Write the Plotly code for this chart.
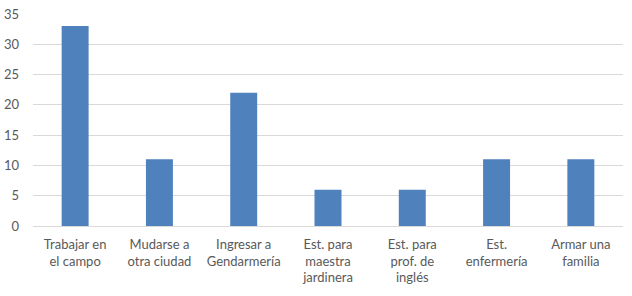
import plotly.graph_objects as go

categories = ["Trabajar en<br>el campo", "Mudarse a<br>otra ciudad", "Ingresar a<br>Gendarmería",
              "Est. para<br>maestra<br>jardinera", "Est. para<br>prof. de<br>inglés",
              "Est.<br>enfermería", "Armar una<br>familia"]
values = [33, 11, 22, 6, 6, 11, 11]
y_ticks = [0, 5, 10, 15, 20, 25, 30, 35]

fig = go.Figure(go.Bar(x=categories, y=values, marker=dict(color="#4F81BD", line=dict(width=0)),
                       width=0.32))
fig.update_layout(
    width=632, height=296,
    margin=dict(l=33, r=9, t=14, b=70),
    paper_bgcolor="white", plot_bgcolor="white",
    font=dict(family="Lato", size=13, color="#595959"),
    showlegend=False,
)
fig.update_xaxes(showgrid=False, showline=True, linecolor="#D9D9D9", linewidth=1,
                 ticks="", tickangle=0, tickfont=dict(size=13), automargin=False,
                 ticklabelstandoff=6)
fig.update_yaxes(range=[0, 35], tickvals=y_ticks, showgrid=True, gridcolor="#D9D9D9",
                 gridwidth=1, zeroline=False, showline=False, ticks="",
                 ticklabelstandoff=13, tickfont=dict(size=13), automargin=False)
fig.write_html("out.html", config={"displayModeBar": False},
               post_script="document.body.style.margin='0';")
